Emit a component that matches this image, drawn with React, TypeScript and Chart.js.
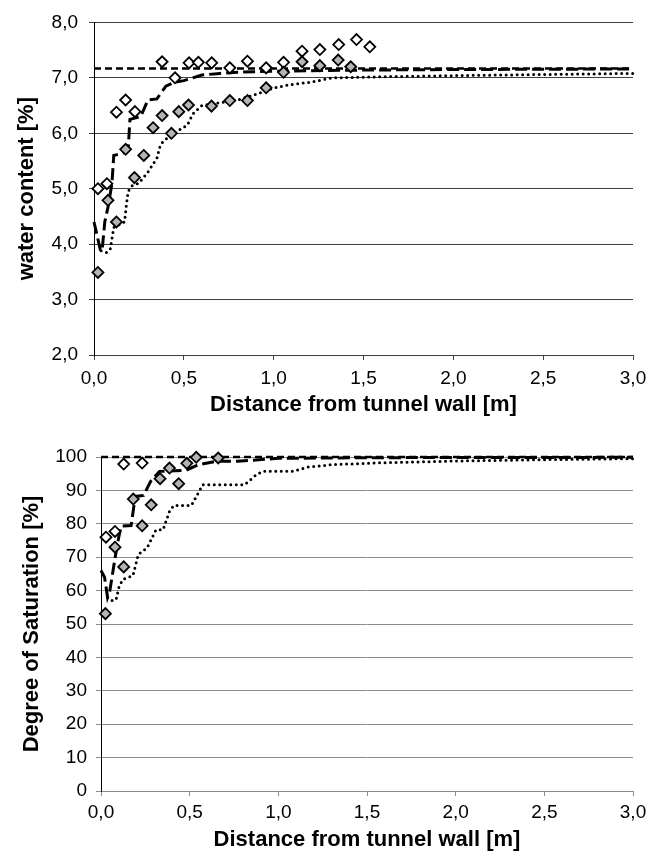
import React, { useEffect, useRef } from 'react';
import { Chart, registerables } from 'chart.js';

Chart.register(...registerables);

const FONT = "'Liberation Sans', Arial, sans-serif";

// ---------- top chart: water content ----------
const wcOpenDist = [0.022, 0.072, 0.125, 0.176, 0.228, 0.379, 0.451, 0.529, 0.581, 0.655, 0.756, 0.854, 0.958, 1.055, 1.158, 1.257, 1.362, 1.461, 1.535];
const wcOpenVal = [5.0, 5.09, 6.38, 6.6, 6.39, 7.29, 7.0, 7.27, 7.28, 7.27, 7.18, 7.3, 7.18, 7.28, 7.48, 7.51, 7.6, 7.69, 7.56];
const wcGrayDist = [0.022, 0.078, 0.125, 0.176, 0.225, 0.277, 0.329, 0.379, 0.431, 0.472, 0.526, 0.654, 0.756, 0.854, 0.958, 1.055, 1.158, 1.257, 1.359, 1.429];
const wcGrayVal = [3.49, 4.79, 4.4, 5.71, 5.2, 5.6, 6.1, 6.32, 6.0, 6.39, 6.51, 6.49, 6.59, 6.59, 6.82, 7.1, 7.29, 7.22, 7.32, 7.2];
const wcRefDist = [0, 3];
const wcRefVal = [7.17, 7.17];
const wcDashDist = [0, 0.035, 0.045, 0.06, 0.08, 0.1, 0.11, 0.17, 0.19, 0.2, 0.26, 0.3, 0.35, 0.4, 0.45, 0.5, 0.55, 0.6, 0.7, 0.8, 1.0, 1.5, 2.0, 3.0];
const wcDashVal = [4.4, 3.9, 3.88, 4.4, 4.7, 5.1, 5.6, 5.65, 5.7, 6.25, 6.3, 6.6, 6.62, 6.85, 6.92, 6.95, 7.0, 7.05, 7.08, 7.1, 7.12, 7.14, 7.15, 7.16];
const wcDotDist = [0.04, 0.07, 0.09, 0.1, 0.11, 0.17, 0.18, 0.19, 0.21, 0.25, 0.3, 0.35, 0.37, 0.42, 0.47, 0.52, 0.55, 0.6, 0.7, 0.8, 0.9, 1.0, 1.1, 1.2, 1.33, 1.6, 2.0, 2.5, 3.0];
const wcDotVal = [3.88, 3.85, 3.9, 4.1, 4.3, 4.4, 4.7, 4.95, 5.05, 5.1, 5.3, 5.55, 5.8, 5.95, 6.05, 6.15, 6.35, 6.5, 6.55, 6.6, 6.7, 6.82, 6.88, 6.92, 7.0, 7.02, 7.04, 7.06, 7.08];

// ---------- bottom chart: degree of saturation ----------
const srOpenDist = [0.028, 0.079, 0.128, 0.232];
const srOpenVal = [76.0, 77.7, 97.9, 98.2];
const srGrayDist = [0.025, 0.079, 0.128, 0.182, 0.232, 0.283, 0.333, 0.386, 0.438, 0.484, 0.537, 0.661];
const srGrayVal = [53.1, 73.0, 67.1, 87.4, 79.4, 85.7, 93.5, 96.7, 92.0, 98.1, 99.9, 99.7];
const srRefDist = [0, 3];
const srRefVal = [100, 100];
const srDashDist = [0, 0.02, 0.037, 0.05, 0.065, 0.08, 0.1, 0.113, 0.17, 0.19, 0.195, 0.24, 0.28, 0.33, 0.48, 0.55, 0.65, 0.77, 1.0, 1.5, 3.0];
const srDashVal = [66, 64, 58, 60, 65, 70, 76, 79.3, 79.5, 87, 88.2, 88.5, 92.7, 95.7, 96, 97.7, 98.7, 98.7, 99.6, 99.8, 99.9];
const srDotDist = [0.037, 0.06, 0.085, 0.1, 0.122, 0.18, 0.197, 0.21, 0.26, 0.31, 0.35, 0.386, 0.41, 0.51, 0.574, 0.81, 0.876, 0.913, 1.08, 1.17, 1.3, 1.6, 2.0, 2.5, 3.0];
const srDotVal = [57.9, 57, 57.3, 60.8, 63.3, 64.5, 68, 70.8, 72.8, 78.2, 78.2, 83.7, 85.5, 85.5, 91.7, 91.7, 94.7, 95.7, 95.7, 97, 97.7, 98.3, 98.8, 99.2, 99.5];

const xTitle = 'Distance from tunnel wall [m]';

function pts(xs: number[], ys: number[]) {
  return xs.map((x, i) => ({ x, y: ys[i] }));
}
const comma = (v: any) => Number(v).toFixed(1).replace('.', ',');

function datasets(oD, oV, gD, gV, rD, rV, dD, dV, tD, tV) {
  return [
    { data: pts(gD, gV), pointStyle: 'rectRot', pointRadius: 5.5, backgroundColor: '#b4b4b4', borderColor: '#000', pointBorderWidth: 1.8, showLine: false, clip: false },
    { data: pts(oD, oV), pointStyle: 'rectRot', pointRadius: 5.5, backgroundColor: '#ffffff', borderColor: '#000', pointBorderWidth: 1.8, showLine: false, clip: false },
    { data: pts(rD, rV), showLine: true, pointRadius: 0, borderColor: '#000', borderWidth: 2.5, borderDash: [7, 4], tension: 0, clip: false },
    { data: pts(dD, dV), showLine: true, pointRadius: 0, borderColor: '#000', borderWidth: 3, borderDash: [12, 5], tension: 0, clip: false },
    { data: pts(tD, tV), showLine: true, pointRadius: 0, borderColor: '#000', borderWidth: 3, borderDash: [0, 5.5], borderCapStyle: 'round', tension: 0, clip: false },
  ];
}

type PanelProps = {
  height: number;
  cfg: any;
};

function Panel({ height, cfg }: PanelProps) {
  const ref = useRef<HTMLCanvasElement>(null);
  useEffect(() => {
    if (!ref.current) return;
    const chart = new Chart(ref.current, cfg);
    return () => chart.destroy();
  }, []);
  return <canvas ref={ref} width={654} height={height} style={{ display: 'block', width: 654, height }} />;
}

function makeCfg(p: any) {
  return {
    type: 'scatter',
    data: { datasets: p.datasets },
    options: {
      animation: false,
      responsive: false,
      devicePixelRatio: 1,
      layout: { padding: { left: 0, right: 21, top: p.top, bottom: 0 } },
      plugins: { legend: { display: false }, tooltip: { enabled: false } },
      scales: {
        x: {
          type: 'linear',
          min: 0,
          max: 3,
          afterFit: (s: any) => { s.height = p.xh; },
          ticks: { stepSize: 0.5, callback: comma, color: '#000', font: { family: FONT, size: 19 }, padding: p.xtp, maxRotation: 0, autoSkip: false },
          grid: { drawOnChartArea: false, drawTicks: true, tickLength: 5, color: p.grid },
          border: { color: p.grid, width: 1 },
          title: { display: true, text: xTitle, color: '#000', font: { family: FONT, size: 22, weight: 'bold' }, padding: { top: 0, bottom: p.xtitlePad } },
        },
        y: {
          type: 'linear',
          min: p.ymin,
          max: p.ymax,
          afterFit: (s: any) => { s.width = p.yw; },
          ticks: { stepSize: p.ystep, callback: p.yfmt, color: '#000', font: { family: FONT, size: 19 }, padding: p.ytp, autoSkip: false },
          grid: { color: p.grid, lineWidth: 1, drawTicks: true, tickLength: 5 },
          border: { color: '#000', width: 1 },
          title: { display: true, text: p.ytitle, color: '#000', font: { family: FONT, size: 22, weight: 'bold' }, padding: { top: p.ytitlePad, bottom: 0 } },
        },
      },
    },
  };
}

const topCfg = makeCfg({
  datasets: datasets(wcOpenDist, wcOpenVal, wcGrayDist, wcGrayVal, wcRefDist, wcRefVal, wcDashDist, wcDashVal, wcDotDist, wcDotVal),
  top: 16, xh: 77, xtp: 7.5, xtitlePad: 14, grid: '#404040',
  ymin: 2, ymax: 8, ystep: 1, yfmt: comma, yw: 94, ytp: 11, ytitle: 'water content [%]', ytitlePad: 14,
});

const botCfg = makeCfg({
  datasets: datasets(srOpenDist, srOpenVal, srGrayDist, srGrayVal, srRefDist, srRefVal, srDashDist, srDashVal, srDotDist, srDotVal),
  top: 25, xh: 74, xtp: 5.5, xtitlePad: 12, grid: '#8c8c8c',
  ymin: 0, ymax: 100, ystep: 10, yfmt: (v: any) => String(v), yw: 101, ytp: 9, ytitle: 'Degree of Saturation [%]', ytitlePad: 19,
});

export default function App() {
  return (
    <div style={{ position: 'absolute', left: 0, top: 0, width: 654, height: 865, background: '#fff' }}>
      <Panel height={432} cfg={topCfg} />
      <Panel height={433} cfg={botCfg} />
    </div>
  );
}
